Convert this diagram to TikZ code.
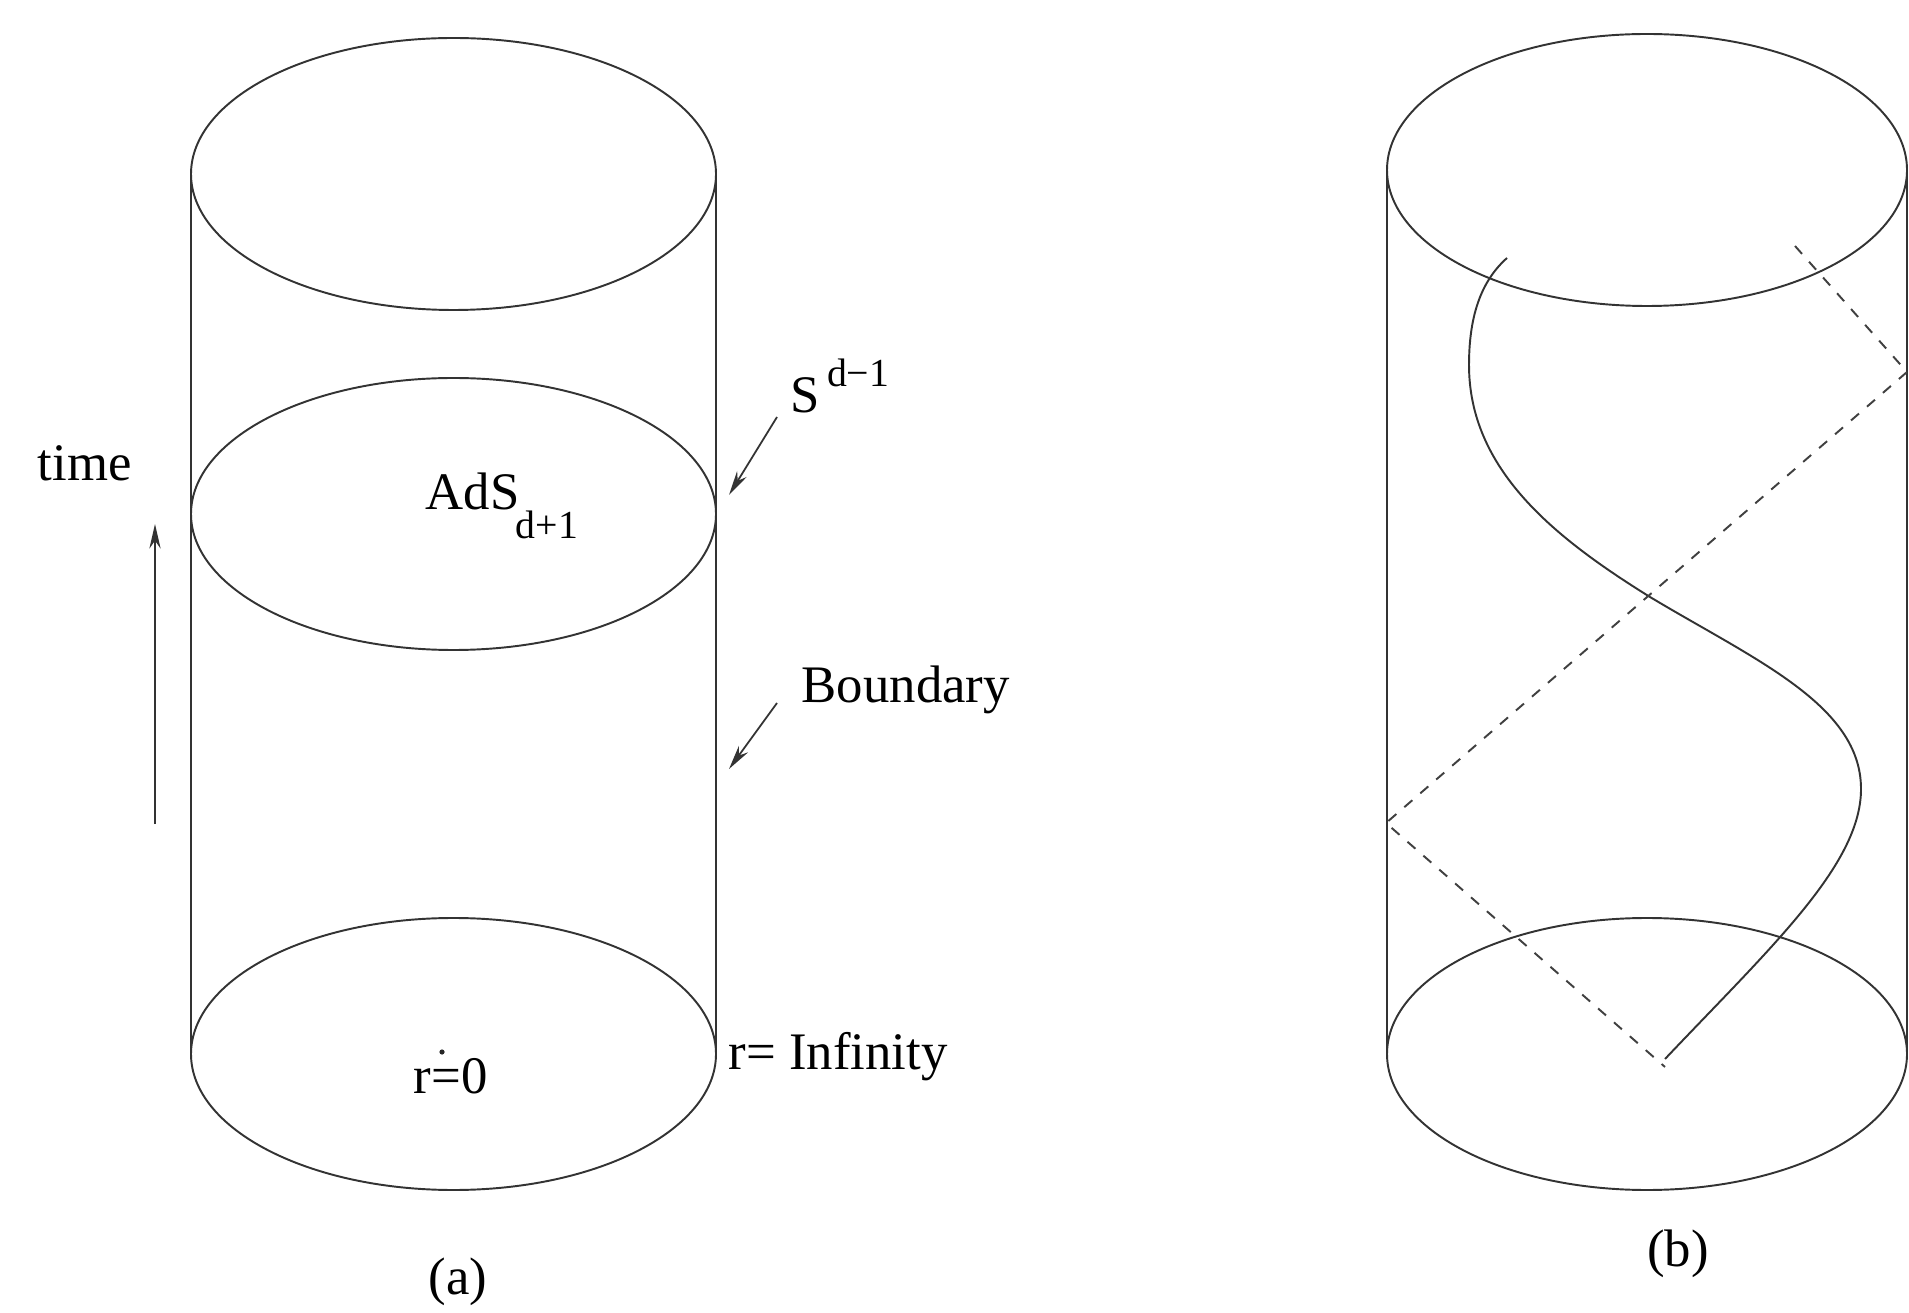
\documentclass[tikz,border=0pt]{standalone}
\usepackage{fontspec}
\setmainfont{Liberation Serif}
\usetikzlibrary{arrows.meta}
\begin{document}
\begin{tikzpicture}[x=0.01cm,y=-0.01cm,
  line/.style={line width=0.55pt,draw=black!80},
  pointer/.style={line width=0.5pt,draw=black!80,-{Stealth[length=7pt,width=3.2pt]}},
  dashline/.style={line width=0.55pt,draw=black!75,dash pattern=on 3pt off 3pt},
  lbl/.style={inner sep=0pt,font=\fontsize{15}{18}\selectfont,anchor=base west},
  captxt/.style={inner sep=0pt,font=\fontsize{15}{18}\selectfont}]
\useasboundingbox (0,0) rectangle (1909,1313);
% ---- cylinder (a)
\draw[line] (453.5,174) ellipse [x radius=262.5,y radius=136];
\draw[line] (453.5,514) ellipse [x radius=262.5,y radius=136];
\draw[line] (453.5,1054) ellipse [x radius=262.5,y radius=136];
\coordinate (aTL) at (191,174); \coordinate (aBL) at (191,1054);
\coordinate (aTR) at (716,174); \coordinate (aBR) at (716,1054);
\draw[line] (aTL) -- (aBL);
\draw[line] (aTR) -- (aBR);
\fill[black!85] (442,1052) circle [radius=2.6];
% labels
\node[lbl] (time) at (37,481) {time};
\coordinate (tA) at (155,824); \coordinate (tB) at (155,524);
\draw[pointer] (tA) -- (tB);
\node[lbl] (ads) at (425,510) {AdS\kern-1pt\raisebox{-8pt}{\fontsize{11.3}{13}\selectfont d+1}};
\node[lbl] (sph) at (790,413) {S\kern2pt\raisebox{7.4pt}{\fontsize{11.3}{13}\selectfont d−1}};
\coordinate (sA) at (777,417); \coordinate (sB) at (729,495);
\draw[pointer] (sA) -- (sB);
\node[lbl] (bnd) at (801,703) {Boundary};
\coordinate (bA) at (777,703); \coordinate (bB) at (729,769);
\draw[pointer] (bA) -- (bB);
\node[lbl] (rinf) at (728,1069) {r= Infinity};
\node[lbl] (rzero) at (413,1093) {r=0};
\node[captxt] (capa) at (458,1282) {(a)};
% ---- cylinder (b)
\draw[line] (1647,170) ellipse [x radius=260,y radius=136];
\draw[line] (1647,1054) ellipse [x radius=260,y radius=136];
\coordinate (bTL) at (1387,170); \coordinate (bBL) at (1387,1054);
\coordinate (bTR) at (1907,170); \coordinate (bBR) at (1907,1054);
\draw[line] (bTL) -- (bBL);
\draw[line] (bTR) -- (bBR);
\coordinate (w0) at (1507,258); \coordinate (w1) at (1469,365);
\coordinate (w2) at (1650,597); \coordinate (w3) at (1861,789);
\coordinate (w4) at (1665,1059);
\draw[line] (w0) .. controls (1480,282) and (1469,318) .. (w1)
  .. controls (1469,470) and (1555,538) .. (w2)
  .. controls (1755,660) and (1861,705) .. (w3)
  .. controls (1861,865) and (1770,948) .. (w4);
\coordinate (d1) at (1795,246); \coordinate (d2) at (1907,372);
\coordinate (d3) at (1386,823); \coordinate (d4) at (1665,1067);
\draw[dashline] (d1) -- (d2) -- (d3) -- (d4);
\node[captxt] (capb) at (1678,1254) {(b)};
\end{tikzpicture}
\end{document}
